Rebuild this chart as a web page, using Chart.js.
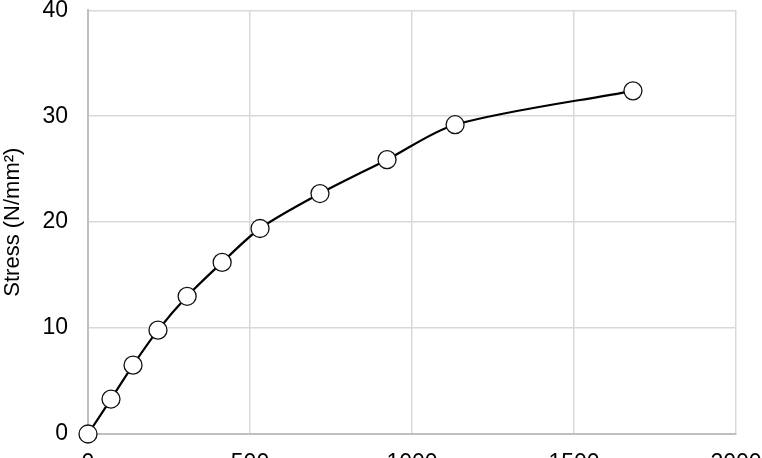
<!DOCTYPE html>
<html>
<head>
<meta charset="utf-8">
<script src="https://cdn.jsdelivr.net/npm/chart.js@4/dist/chart.umd.min.js"></script>
<style>
  html, body { margin: 0; padding: 0; background: #fff; overflow: hidden; }
  #wrap { position: relative; width: 762px; height: 520px; }
</style>
</head>
<body>
<div id="wrap"><canvas id="stressChart"></canvas></div>
<script>
  const strain = [0, 71, 139, 216, 306, 414, 531, 716, 923, 1133, 1682];
  const stress = [0, 3.3, 6.5, 9.8, 13.0, 16.2, 19.4, 22.7, 25.9, 29.2, 32.4];
  const xTicks = [0, 500, 1000, 1500, 2000];
  const yTicks = [0, 10, 20, 30, 40];

  const points = strain.map((s, i) => ({ x: s, y: stress[i] }));

  const ctx = document.getElementById('stressChart').getContext('2d');
  const stressChart = new Chart(ctx, {
    type: 'line',
    data: {
      datasets: [{
        label: 'Stress',
        data: points,
        clip: false,
        borderColor: '#000',
        borderWidth: 2.2,
        tension: 0.3,
        pointRadius: 9,
        pointBackgroundColor: '#fff',
        pointBorderColor: '#111',
        pointBorderWidth: 1.3
      }]
    },
    options: {
      responsive: true,
      maintainAspectRatio: false,
      animation: false,
      layout: { padding: { top: 8, right: 26, left: 0, bottom: 0 } },
      plugins: {
        legend: { display: false },
        tooltip: { enabled: false }
      },
      scales: {
        x: {
          type: 'linear',
          min: xTicks[0],
          max: xTicks[xTicks.length - 1],
          afterBuildTicks: (scale) => { scale.ticks = xTicks.map(v => ({ value: v })); },
          afterFit: (scale) => {
            scale.height = 86;
            scale.paddingLeft = 0;
            scale.paddingRight = 0;
          },
          grid: { color: '#d9d9d9', lineWidth: 1.5, drawTicks: false },
          border: { color: '#bfbfbf', width: 2 },
          ticks: {
            padding: 16,
            color: '#000',
            callback: (v) => String(v),
            font: { family: 'Liberation Sans', size: 23 }
          }
        },
        y: {
          min: yTicks[0],
          max: yTicks[yTicks.length - 1],
          afterBuildTicks: (scale) => { scale.ticks = yTicks.map(v => ({ value: v })); },
          afterFit: (scale) => {
            scale.width = 88;
            scale.paddingTop = 0;
            scale.paddingBottom = 0;
          },
          grid: { color: '#d9d9d9', lineWidth: 1.5, drawTicks: false },
          border: { color: '#bfbfbf', width: 2 },
          title: {
            display: true,
            text: 'Stress (N/mm²)',
            color: '#000',
            padding: { top: 0, bottom: 6 },
            font: { family: 'Liberation Sans', size: 22 }
          },
          ticks: {
            padding: 20,
            color: '#000',
            callback: (v) => String(v),
            font: { family: 'Liberation Sans', size: 23 }
          }
        }
      }
    }
  });
</script>
</body>
</html>
